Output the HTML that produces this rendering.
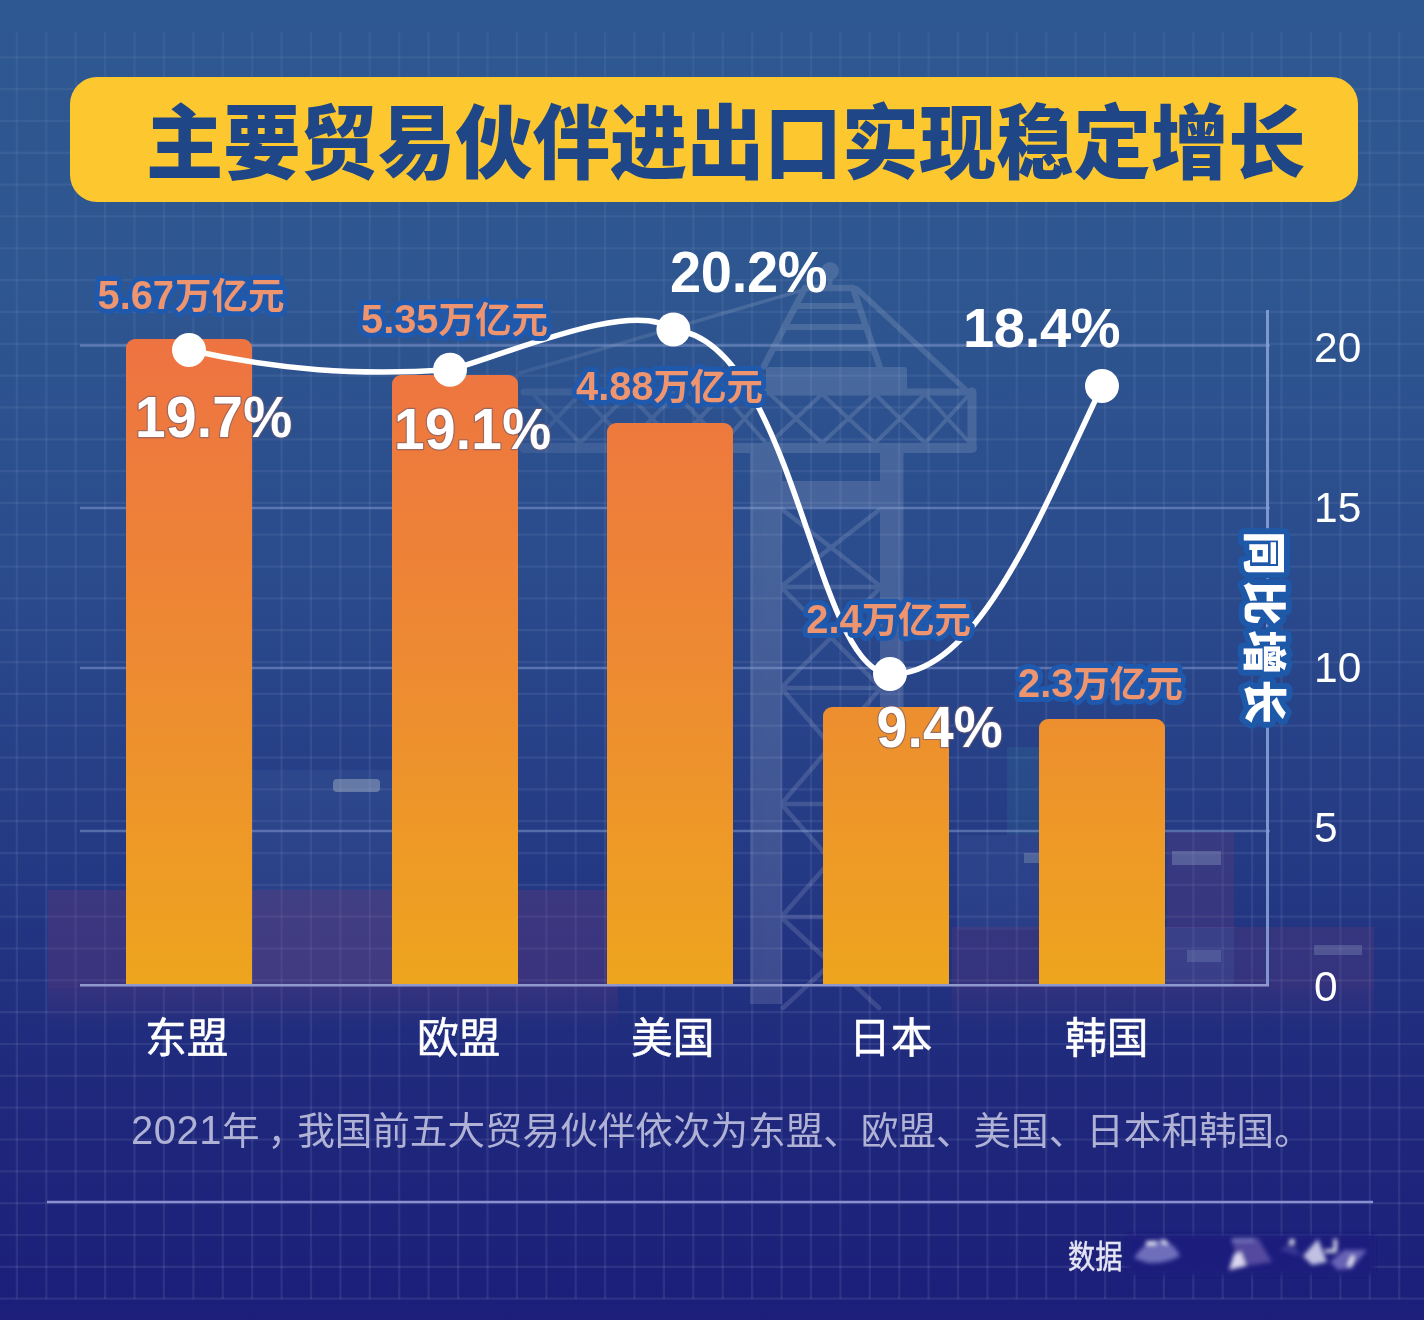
<!DOCTYPE html>
<html lang="zh-CN">
<head>
<meta charset="utf-8">
<title>主要贸易伙伴进出口实现稳定增长</title>
<style>
html,body{margin:0;padding:0;}
body{width:1424px;height:1320px;overflow:hidden;position:relative;background:#24337f;font-family:"Liberation Sans","Noto Sans CJK SC",sans-serif;}
#stage{position:absolute;left:0;top:0;width:1424px;height:1320px;overflow:hidden;
 background:linear-gradient(180deg,#2e5891 0%,#2e5690 22%,#2a4a8c 45%,#243a84 65%,#1f297c 82%,#1c1e79 100%);}
svg{position:absolute;left:0;top:0;}
.title{font-family:"Liberation Sans","Noto Sans CJK SC",sans-serif;font-weight:900;font-size:77.3px;fill:#1f4788;}
.val{font-family:"Liberation Sans","Noto Sans CJK SC",sans-serif;font-weight:bold;font-size:36.5px;fill:#ee9570;stroke:#1f59ad;stroke-width:10px;stroke-linejoin:round;paint-order:stroke fill;}
.vn{font-size:39.8px;}
.pct{font-family:"Liberation Sans","Noto Sans CJK SC",sans-serif;font-weight:bold;font-size:55px;letter-spacing:0.3px;fill:#fff;stroke:rgba(110,90,110,0.6);stroke-width:2.4px;stroke-linejoin:round;paint-order:stroke fill;}
.pct2{font-family:"Liberation Sans","Noto Sans CJK SC",sans-serif;font-weight:bold;font-size:56px;letter-spacing:-0.3px;fill:#fff;}
.ax{font-family:"Liberation Sans","Noto Sans CJK SC",sans-serif;font-size:42.5px;fill:#fff;}
.cat{font-family:"Liberation Sans","Noto Sans CJK SC",sans-serif;font-size:41.7px;fill:#fff;stroke:#fff;stroke-width:0.5px;}
.foot{font-family:"Liberation Sans","Noto Sans CJK SC",sans-serif;font-size:37.6px;fill:#b0b2d5;}
.fn{font-size:40px;letter-spacing:0.5px;}
.src{font-family:"Liberation Sans","Noto Sans CJK SC",sans-serif;font-size:27.3px;fill:#e4e4f4;stroke:#e4e4f4;stroke-width:0.4px;}
.ylab{font-family:"Liberation Sans","Noto Sans CJK SC",sans-serif;font-weight:900;font-size:44px;letter-spacing:5.5px;fill:#fff;stroke:#1e58a8;stroke-width:12px;stroke-linejoin:round;paint-order:stroke fill;}
</style>
</head>
<body>
<div id="stage">
<svg width="1424" height="1320" viewBox="0 0 1424 1320">
<defs>
<linearGradient id="barg" gradientUnits="userSpaceOnUse" x1="0" y1="339" x2="0" y2="985">
<stop offset="0" stop-color="#ee7342"/>
<stop offset="0.5" stop-color="#ed8a32"/>
<stop offset="1" stop-color="#eea51e"/>
</linearGradient>
<linearGradient id="cont" x1="0" y1="0" x2="0" y2="1"><stop offset="0" stop-color="#7a3a78" stop-opacity="0.30"/><stop offset="1" stop-color="#7a3a78" stop-opacity="0.32"/></linearGradient>
<linearGradient id="contr" x1="0" y1="0" x2="0" y2="1"><stop offset="0" stop-color="#7a3a78" stop-opacity="0.25"/><stop offset="1" stop-color="#7a3a78" stop-opacity="0"/></linearGradient>
<linearGradient id="gridg" gradientUnits="userSpaceOnUse" x1="0" y1="0" x2="0" y2="1320"><stop offset="0" stop-color="#e4eaff" stop-opacity="0.052"/><stop offset="1" stop-color="#dfe4ff" stop-opacity="0.09"/></linearGradient>
<linearGradient id="cranefade" gradientUnits="userSpaceOnUse" x1="520" y1="0" x2="770" y2="0"><stop offset="0" stop-color="#fff" stop-opacity="0.55"/><stop offset="1" stop-color="#fff" stop-opacity="1"/></linearGradient>
<mask id="cranemask" maskUnits="userSpaceOnUse" x="0" y="0" width="1424" height="1320"><rect x="0" y="0" width="1424" height="1320" fill="url(#cranefade)"/></mask>
<filter id="blur6" x="-50%" y="-50%" width="200%" height="200%"><feGaussianBlur stdDeviation="2.3"/></filter>
</defs>
<g stroke="url(#gridg)" stroke-width="2.2" fill="none">
<line x1="16.9" y1="32" x2="16.9" y2="1299"/>
<line x1="46.3" y1="32" x2="46.3" y2="1299"/>
<line x1="75.7" y1="32" x2="75.7" y2="1299"/>
<line x1="105.1" y1="32" x2="105.1" y2="1299"/>
<line x1="134.5" y1="32" x2="134.5" y2="1299"/>
<line x1="163.9" y1="32" x2="163.9" y2="1299"/>
<line x1="193.4" y1="32" x2="193.4" y2="1299"/>
<line x1="222.8" y1="32" x2="222.8" y2="1299"/>
<line x1="252.2" y1="32" x2="252.2" y2="1299"/>
<line x1="281.6" y1="32" x2="281.6" y2="1299"/>
<line x1="311.0" y1="32" x2="311.0" y2="1299"/>
<line x1="340.4" y1="32" x2="340.4" y2="1299"/>
<line x1="369.8" y1="32" x2="369.8" y2="1299"/>
<line x1="399.2" y1="32" x2="399.2" y2="1299"/>
<line x1="428.6" y1="32" x2="428.6" y2="1299"/>
<line x1="458.1" y1="32" x2="458.1" y2="1299"/>
<line x1="487.5" y1="32" x2="487.5" y2="1299"/>
<line x1="516.9" y1="32" x2="516.9" y2="1299"/>
<line x1="546.3" y1="32" x2="546.3" y2="1299"/>
<line x1="575.7" y1="32" x2="575.7" y2="1299"/>
<line x1="605.1" y1="32" x2="605.1" y2="1299"/>
<line x1="634.5" y1="32" x2="634.5" y2="1299"/>
<line x1="663.9" y1="32" x2="663.9" y2="1299"/>
<line x1="693.3" y1="32" x2="693.3" y2="1299"/>
<line x1="722.7" y1="32" x2="722.7" y2="1299"/>
<line x1="752.1" y1="32" x2="752.1" y2="1299"/>
<line x1="781.6" y1="32" x2="781.6" y2="1299"/>
<line x1="811.0" y1="32" x2="811.0" y2="1299"/>
<line x1="840.4" y1="32" x2="840.4" y2="1299"/>
<line x1="869.8" y1="32" x2="869.8" y2="1299"/>
<line x1="899.2" y1="32" x2="899.2" y2="1299"/>
<line x1="928.6" y1="32" x2="928.6" y2="1299"/>
<line x1="958.0" y1="32" x2="958.0" y2="1299"/>
<line x1="987.4" y1="32" x2="987.4" y2="1299"/>
<line x1="1016.8" y1="32" x2="1016.8" y2="1299"/>
<line x1="1046.2" y1="32" x2="1046.2" y2="1299"/>
<line x1="1075.7" y1="32" x2="1075.7" y2="1299"/>
<line x1="1105.1" y1="32" x2="1105.1" y2="1299"/>
<line x1="1134.5" y1="32" x2="1134.5" y2="1299"/>
<line x1="1163.9" y1="32" x2="1163.9" y2="1299"/>
<line x1="1193.3" y1="32" x2="1193.3" y2="1299"/>
<line x1="1222.7" y1="32" x2="1222.7" y2="1299"/>
<line x1="1252.1" y1="32" x2="1252.1" y2="1299"/>
<line x1="1281.5" y1="32" x2="1281.5" y2="1299"/>
<line x1="1310.9" y1="32" x2="1310.9" y2="1299"/>
<line x1="1340.4" y1="32" x2="1340.4" y2="1299"/>
<line x1="1369.8" y1="32" x2="1369.8" y2="1299"/>
<line x1="1399.2" y1="32" x2="1399.2" y2="1299"/>
<line x1="0" y1="57.3" x2="1424" y2="57.3"/>
<line x1="0" y1="89.1" x2="1424" y2="89.1"/>
<line x1="0" y1="121.0" x2="1424" y2="121.0"/>
<line x1="0" y1="152.8" x2="1424" y2="152.8"/>
<line x1="0" y1="184.6" x2="1424" y2="184.6"/>
<line x1="0" y1="216.4" x2="1424" y2="216.4"/>
<line x1="0" y1="248.3" x2="1424" y2="248.3"/>
<line x1="0" y1="280.1" x2="1424" y2="280.1"/>
<line x1="0" y1="311.9" x2="1424" y2="311.9"/>
<line x1="0" y1="343.8" x2="1424" y2="343.8"/>
<line x1="0" y1="375.6" x2="1424" y2="375.6"/>
<line x1="0" y1="407.4" x2="1424" y2="407.4"/>
<line x1="0" y1="439.3" x2="1424" y2="439.3"/>
<line x1="0" y1="471.1" x2="1424" y2="471.1"/>
<line x1="0" y1="502.9" x2="1424" y2="502.9"/>
<line x1="0" y1="534.7" x2="1424" y2="534.7"/>
<line x1="0" y1="566.6" x2="1424" y2="566.6"/>
<line x1="0" y1="598.4" x2="1424" y2="598.4"/>
<line x1="0" y1="630.2" x2="1424" y2="630.2"/>
<line x1="0" y1="662.1" x2="1424" y2="662.1"/>
<line x1="0" y1="693.9" x2="1424" y2="693.9"/>
<line x1="0" y1="725.7" x2="1424" y2="725.7"/>
<line x1="0" y1="757.6" x2="1424" y2="757.6"/>
<line x1="0" y1="789.4" x2="1424" y2="789.4"/>
<line x1="0" y1="821.2" x2="1424" y2="821.2"/>
<line x1="0" y1="853.1" x2="1424" y2="853.1"/>
<line x1="0" y1="884.9" x2="1424" y2="884.9"/>
<line x1="0" y1="916.7" x2="1424" y2="916.7"/>
<line x1="0" y1="948.5" x2="1424" y2="948.5"/>
<line x1="0" y1="980.4" x2="1424" y2="980.4"/>
<line x1="0" y1="1012.2" x2="1424" y2="1012.2"/>
<line x1="0" y1="1044.0" x2="1424" y2="1044.0"/>
<line x1="0" y1="1075.9" x2="1424" y2="1075.9"/>
<line x1="0" y1="1107.7" x2="1424" y2="1107.7"/>
<line x1="0" y1="1139.5" x2="1424" y2="1139.5"/>
<line x1="0" y1="1171.4" x2="1424" y2="1171.4"/>
<line x1="0" y1="1203.2" x2="1424" y2="1203.2"/>
<line x1="0" y1="1235.0" x2="1424" y2="1235.0"/>
<line x1="0" y1="1266.8" x2="1424" y2="1266.8"/>
<line x1="0" y1="1298.7" x2="1424" y2="1298.7"/>
</g>

<g mask="url(#cranemask)"><g opacity="0.13" stroke="#fff" fill="none" stroke-linecap="round" stroke-linejoin="round">
<circle cx="830" cy="271" r="9" fill="#fff" stroke="none"/>
<line x1="830" y1="275" x2="830" y2="288" stroke-width="5"/>
<path d="M805,288 H853 M805,288 L764,366 M853,288 L880,368" stroke-width="6.5"/>
<path d="M796,306 H858 M785,327 H866 M774,348 H873" stroke-width="6"/>
<path d="M857,289 L967,391" stroke-width="5.5"/>
<path d="M803,290 L520,373" stroke-width="3.5"/>
<rect x="766" y="367" width="141" height="25" rx="3" fill="#fff" stroke="none"/>
<path d="M524,392 H972" stroke-width="7"/>
<path d="M524,448 H972" stroke-width="10"/>
<path d="M972,392 V445" stroke-width="9"/>
<path d="M533,394 L580,443 L628,394 L676,443 L723,394 L766,443 M533,443 L580,394 L628,443 L676,394 L723,443 L766,394 M770,394 L822,443 L875,394 L925,443 L968,396 M770,443 L822,394 L875,443 L925,394 L968,441" stroke-width="4"/>
<rect x="750" y="448" width="32" height="556" fill="#fff" stroke="none"/>
<rect x="880" y="448" width="23.5" height="538" fill="#fff" stroke="none"/>
<rect x="782" y="481" width="98" height="26" fill="#fff" stroke="none"/>
<path d="M783,510 L879,585 M879,510 L783,585 M783,589 L879,686 M879,589 L783,686 M783,690 L879,802 M879,690 L783,802 M783,806 L879,915 M879,806 L783,915 M783,919 L879,1008 M879,919 L783,1008 M782,587 H880 M782,688 H880 M782,804 H880 M782,917 H880" stroke-width="4.5"/>
</g></g>
<g>
<rect x="252" y="770" width="140" height="120" fill="#5f86b4" opacity="0.13"/>
<rect x="333" y="779" width="47" height="13" rx="4" fill="#aab6c8" opacity="0.45"/>
<rect x="48" y="890" width="570" height="98" fill="url(#cont)" opacity="0.9"/>
<rect x="252" y="890" width="140" height="95" fill="#fff" opacity="0.035"/>
<rect x="48" y="988" width="570" height="40" fill="url(#contr)" opacity="0.9"/>
<rect x="1007" y="747" width="34" height="88" fill="#3fa0a0" opacity="0.13"/>
<rect x="957" y="835" width="84" height="95" fill="#6f86c0" opacity="0.12"/>
<rect x="1024" y="853" width="16" height="10" fill="#aab6c8" opacity="0.3"/>
<rect x="1167" y="832" width="67" height="96" fill="#7a3a78" opacity="0.24"/>
<rect x="1172" y="851" width="49" height="14" fill="#8fa2c8" opacity="0.36"/>
<rect x="952" y="927" width="422" height="61" fill="#7a3a78" opacity="0.22"/>
<rect x="952" y="988" width="422" height="40" fill="url(#contr)" opacity="0.7"/>
<rect x="1165" y="927" width="69" height="60" fill="#5f86c4" opacity="0.14"/>
<rect x="1187" y="950" width="34" height="12" fill="#8fa2c8" opacity="0.25"/>
<rect x="1314" y="945" width="48" height="10" fill="#8fa2c8" opacity="0.3"/>
</g>

<g stroke="#8fa6d8" stroke-opacity="0.47" stroke-width="2.5" fill="none">
<line x1="80" y1="345.5" x2="1270" y2="345.5"/>
<line x1="80" y1="508" x2="1270" y2="508"/>
<line x1="80" y1="668" x2="1270" y2="668"/>
<line x1="80" y1="831" x2="1270" y2="831"/>
</g>
<line x1="1267.5" y1="310" x2="1267.5" y2="986" stroke="#86a0d6" stroke-opacity="0.9" stroke-width="3"/>
<path d="M126,985 V348 a9,9 0 0 1 9,-9 H243 a9,9 0 0 1 9,9 V985 Z" fill="url(#barg)"/>
<path d="M392,985 V384 a9,9 0 0 1 9,-9 H509 a9,9 0 0 1 9,9 V985 Z" fill="url(#barg)"/>
<path d="M607,985 V432 a9,9 0 0 1 9,-9 H724 a9,9 0 0 1 9,9 V985 Z" fill="url(#barg)"/>
<path d="M823,985 V716 a9,9 0 0 1 9,-9 H940 a9,9 0 0 1 9,9 V985 Z" fill="url(#barg)"/>
<path d="M1039,985 V728 a9,9 0 0 1 9,-9 H1156 a9,9 0 0 1 9,9 V985 Z" fill="url(#barg)"/>

<line x1="80" y1="985.3" x2="1269" y2="985.3" stroke="#8f99cd" stroke-width="2.5"/>
<rect x="70" y="77" width="1288" height="125" rx="27" ry="27" fill="#fdc72f"/>
<text class="title" transform="translate(146,171.5) scale(1,1.04)">主要贸易伙伴进出口实现稳定增长</text>
<path d="M189.0,350.0 C279.6,370.2 355.8,375.6 450.0,369.7 C500.4,357.3 631.2,297.6 673.4,329.5 C794.9,341.5 813.8,671.8 890.0,674.0 C976.4,676.7 1038.5,519.6 1102.0,386.0" fill="none" stroke="#fff" stroke-width="5.5" stroke-linecap="round" stroke-linejoin="round"/>
<circle cx="189.0" cy="350.0" r="17" fill="#fff"/><circle cx="450.0" cy="369.7" r="17" fill="#fff"/><circle cx="673.4" cy="329.5" r="17" fill="#fff"/><circle cx="890.0" cy="674.0" r="17" fill="#fff"/><circle cx="1102.0" cy="386.0" r="17" fill="#fff"/>
<text class="val" x="97.5" y="308.7"><tspan class="vn">5.67</tspan>万亿元</text>
<text class="val" x="361" y="333.2"><tspan class="vn">5.35</tspan>万亿元</text>
<text class="val" x="576" y="399.5"><tspan class="vn">4.88</tspan>万亿元</text>
<text class="val" x="806.3" y="632.7"><tspan class="vn">2.4</tspan>万亿元</text>
<text class="val" x="1018" y="696.8"><tspan class="vn">2.3</tspan>万亿元</text>
<text class="pct" transform="translate(135.0,436.8) scale(1,1.03)">19.7%</text>
<text class="pct" transform="translate(394.0,449.0) scale(1,1.03)">19.1%</text>
<text class="pct2" transform="translate(670.0,292.3) scale(1,1.02)">20.2%</text>
<text class="pct" transform="translate(876.5,747.2) scale(1,1.03)">9.4%</text>
<text class="pct2" transform="translate(963.0,347.2) scale(1,0.995)">18.4%</text>
<text class="ax" x="1314" y="362">20</text>
<text class="ax" x="1314" y="522">15</text>
<text class="ax" x="1314" y="682">10</text>
<text class="ax" x="1314" y="842">5</text>
<text class="ax" x="1314" y="1001">0</text>
<text class="ylab" transform="translate(1247.6,531.2) rotate(90)">同比增长</text>
<text class="cat" x="145" y="1053">东盟</text>
<text class="cat" x="417" y="1053">欧盟</text>
<text class="cat" x="631" y="1053">美国</text>
<text class="cat" x="849" y="1053">日本</text>
<text class="cat" x="1065" y="1053">韩国</text>
<text class="foot" x="131" y="1144"><tspan class="fn">2021</tspan>年<tspan dx="8">，</tspan><tspan dx="-8">我国前五大贸易伙伴依次为东盟、欧盟、美国、日本和韩国。</tspan></text>
<line x1="47" y1="1202" x2="1373" y2="1202" stroke="#8a8fd0" stroke-width="2.6"/>
<text class="src" transform="translate(1068,1268) scale(1,1.18)">数据</text>
<rect x="1128" y="1235" width="246" height="40" fill="#1c1f7d" filter="url(#blur6)"/>
<g filter="url(#blur6)">
<path d="M1134,1258 Q1146,1240 1160,1240 Q1174,1242 1180,1256 Q1166,1264 1148,1263 Z" fill="#8a8ad0" opacity="0.75"/>
<path d="M1146,1243 H1156 M1162,1240 L1167,1244" stroke="#fff" stroke-width="3.5" fill="none"/>
<path d="M1231,1239 L1258,1238 L1272,1262 L1246,1266 L1236,1254 Z" fill="#5d52a6" opacity="0.85"/>
<path d="M1232,1240 H1254" stroke="#8f8fd0" stroke-width="3" fill="none" opacity="0.8"/>
<path d="M1229,1270 L1234,1254 L1241,1252 L1246,1266 Z" fill="#e6e0f6" opacity="0.95"/>
<path d="M1280,1250 L1292,1241 L1300,1256 Z" fill="#4a46a0" opacity="0.7"/>
<circle cx="1292" cy="1241.5" r="2.6" fill="#fff"/>
<path d="M1303,1256 L1318,1239 L1327,1262 L1312,1265 Z" fill="#c9c9e8" opacity="0.95"/>
<path d="M1335.3,1239 V1251 M1325,1251 H1336" stroke="#fff" stroke-width="3.2" fill="none"/>
<path d="M1330,1262 L1344,1250 L1367,1250 L1352,1268 L1338,1270 Z" fill="#7a74c4" opacity="0.8"/>
<path d="M1349,1267 L1353,1256" stroke="#fff" stroke-width="3.4" fill="none"/>
</g>
</svg>
</div>
</body>
</html>
